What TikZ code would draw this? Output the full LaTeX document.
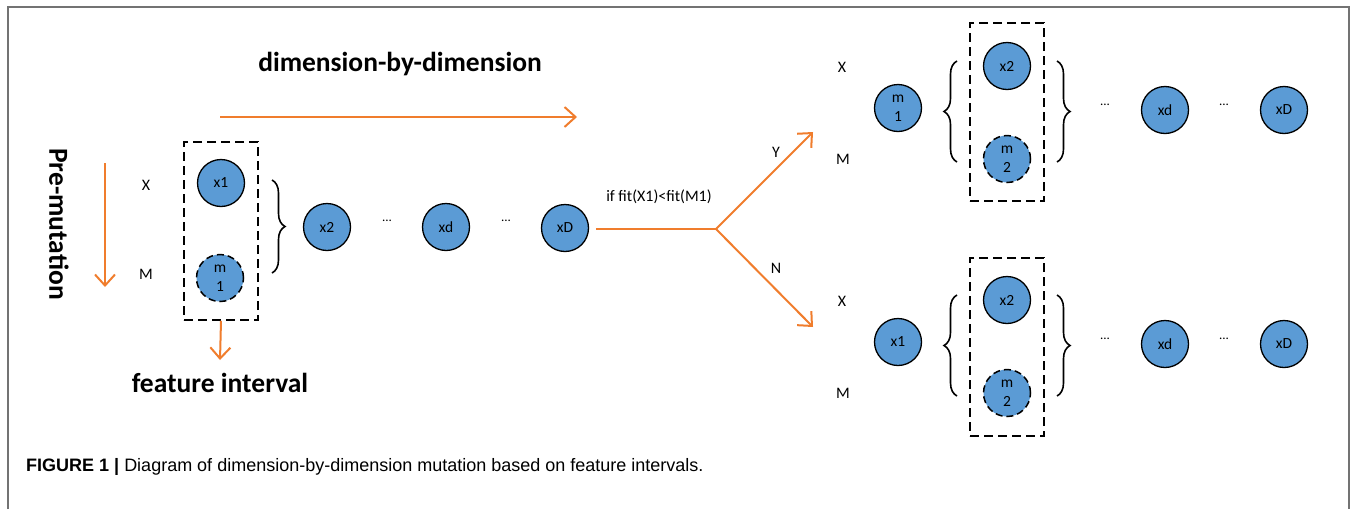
\documentclass[tikz,border=0pt]{standalone}
\usepackage{fontspec}
\setmainfont{Carlito}
\newfontfamily\capfont{Liberation Sans}
\usetikzlibrary{arrows.meta,decorations.pathreplacing}
\definecolor{nodeblue}{RGB}{91,155,213}
\definecolor{flow}{RGB}{240,125,45}
\definecolor{framegray}{RGB}{115,115,115}

\begin{document}
\begin{tikzpicture}[x=1pt,y=-1pt,
  var/.style={circle, draw=black, line width=1.3pt, fill=nodeblue, minimum size=47pt,
    inner sep=0pt, align=center, font=\fontsize{15.5}{19}\selectfont},
  mut/.style={var, line width=1.5pt, dash pattern=on 7pt off 4pt},
  lbl/.style={font=\fontsize{16}{18}\selectfont},
  dots/.style={font=\fontsize{13}{15}\selectfont},
  title/.style={font=\bfseries\fontsize{27.5}{31}\selectfont},
  flowline/.style={draw=flow, line width=2pt},
  flowarrow/.style={flowline, -{Straight Barb[length=11pt,width=20pt,line width=2pt]}},
  interval/.style={rectangle, draw=black, line width=1.5pt, dash pattern=on 9pt off 5pt,
    minimum width=74pt, minimum height=178pt, inner sep=0pt},
  bracket/.style={draw=black, line width=1.6pt, decorate, decoration={brace, amplitude=13pt}}
]
\useasboundingbox (0,0) rectangle (1356,509);

% open frame around the figure
\draw[framegray, line width=1.5pt] (8,509) -- (8,7) -- (1349,7) -- (1349,509);

% ---------- direction labels ----------
\node[title] (dbd) at (400,64) {dimension-by-dimension};
\coordinate (dbdA) at (220,117);
\coordinate (dbdB) at (577,117);
\draw[flowarrow] (dbdA) -- (dbdB);

\node[title, rotate=-90] (pre) at (59,224) {Pre-mutation};
\coordinate (preA) at (105,163);
\coordinate (preB) at (105,287);
\draw[flowarrow] (preA) -- (preB);

% ---------- original individual ----------
\node[lbl] (LX) at (146,185) {X};
\node[lbl] (LM) at (146,274) {M};
\node[interval] (box1) at (221,231) {};
\node[var] (x1) at (221,183) {x1};
\node[mut] (m1) at (220,278) {m\\1};
\draw[bracket] (272,180) -- (272,273);
\node[var] (x2) at (327,227) {x2};
\node[dots] (d1) at (387,221) {...};
\node[var] (xd) at (446,227) {xd};
\node[dots] (d2) at (506,221) {...};
\node[var] (xD) at (565,228) {xD};

\node[title] (fi) at (220,383) {feature interval};
\coordinate (fiA) at (220,360);
\draw[flowarrow] (box1.south) -- (fiA);

% ---------- fitness test ----------
\node[lbl] (cond) at (659,197) {if fit(X1)<fit(M1)};
\coordinate (xDout) at (596,229);
\coordinate (fork) at (716,229);
\coordinate (yes) at (813,132);
\coordinate (no) at (813,327);
\draw[flowline] (xDout) -- (fork);
\draw[flowarrow] (fork) -- (yes);
\draw[flowarrow] (fork) -- (no);
\node[lbl] (LY) at (776,152) {Y};
\node[lbl] (LN) at (776,268) {N};

% ---------- outcome Y ----------
\node[lbl] (YX) at (842,67) {X};
\node[lbl] (YM) at (843,159) {M};
\node[var] (Ym1) at (898,108) {m\\1};
\node[interval] (Ybox) at (1007,112) {};
\node[var] (Yx2) at (1007,66) {x2};
\node[mut] (Ym2) at (1007,159) {m\\2};
\draw[bracket] (957,162) -- (957,61);
\draw[bracket] (1057,61) -- (1057,162);
\node[dots] (Yd1) at (1105,105) {...};
\node[var] (Yxd) at (1165,110) {xd};
\node[dots] (Yd2) at (1224,105) {...};
\node[var] (YxD) at (1284,110) {xD};

% ---------- outcome N ----------
\node[lbl] (NX) at (842,301) {X};
\node[lbl] (NM) at (843,393) {M};
\node[var] (Nx1) at (898,342) {x1};
\node[interval] (Nbox) at (1007,347) {};
\node[var] (Nx2) at (1007,300) {x2};
\node[mut] (Nm2) at (1007,393) {m\\2};
\draw[bracket] (957,396) -- (957,295);
\draw[bracket] (1057,295) -- (1057,396);
\node[dots] (Nd1) at (1105,339) {...};
\node[var] (Nxd) at (1165,344) {xd};
\node[dots] (Nd2) at (1224,339) {...};
\node[var] (NxD) at (1284,344) {xD};

% ---------- caption ----------
\node[anchor=west, inner sep=0pt, font=\capfont\fontsize{18}{20}\selectfont] (cap) at (26,467)
  {\textbf{FIGURE 1 |} Diagram of dimension-by-dimension mutation based on feature intervals.};
\end{tikzpicture}
\end{document}
